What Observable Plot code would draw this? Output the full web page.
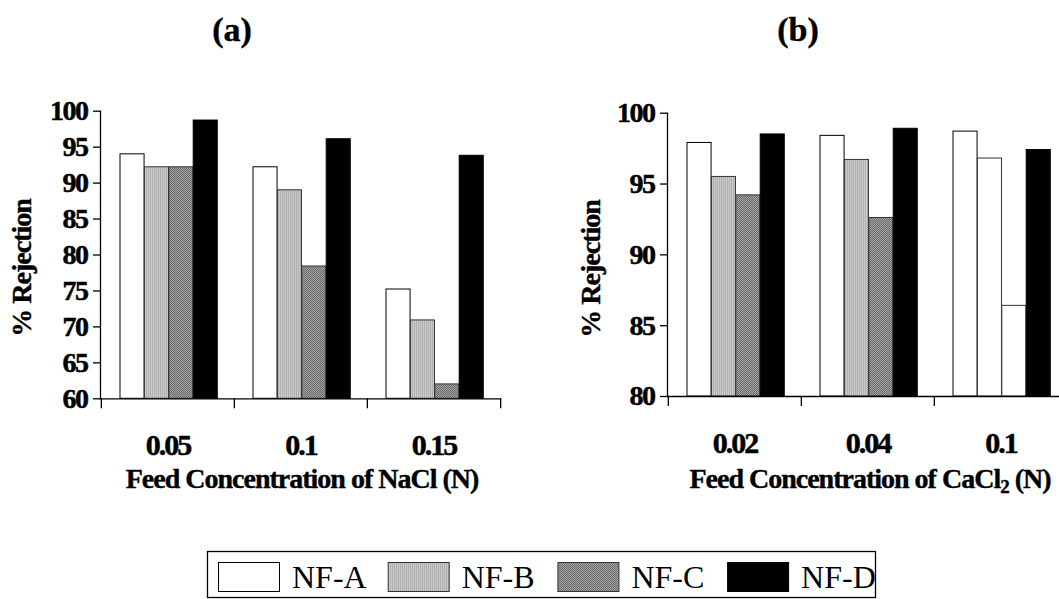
<!DOCTYPE html>
<html><head><meta charset="utf-8">
<script src="https://cdn.jsdelivr.net/npm/d3@7"></script>
<script src="https://cdn.jsdelivr.net/npm/@observablehq/plot@0.6"></script>
<style>
html,body{margin:0;padding:0;background:#fff;width:1059px;height:599px;overflow:hidden;position:relative;font-family:"Liberation Serif","Times New Roman",serif;}
.panel{position:absolute;top:0;width:540px;}
.panel svg{overflow:visible;max-width:none !important;}
.panel svg text{font-family:"Liberation Serif","Times New Roman",serif !important;font-weight:bold !important;fill:#000;stroke:#000;stroke-width:0.5px;}
.panel g[aria-label="y-axis tick label"] text{font-size:28px !important;letter-spacing:-1.5px;}
.panel g[aria-label="x-axis tick label"] text{font-size:30px !important;letter-spacing:-2px;}
#overlay{position:absolute;left:0;top:0;}
#overlay text.b{stroke:#000;stroke-width:0.4px;}
</style></head><body>
<svg width="0" height="0" style="position:absolute"><defs>
<pattern id="patB" width="2" height="2" patternUnits="userSpaceOnUse"><rect width="2" height="2" fill="#c9c9c9"/><rect width="1" height="2" fill="#b1b1b1"/></pattern>
<pattern id="patC" width="2" height="2" patternUnits="userSpaceOnUse"><rect width="2" height="2" fill="#a2a2a2"/><rect width="1" height="1" fill="#6c6c6c"/><rect x="1" y="1" width="1" height="1" fill="#6c6c6c"/></pattern>
</defs></svg>
<div id="pa" class="panel" style="left:0px"></div>
<div id="pb" class="panel" style="left:567px"></div>
<svg id="overlay" width="1059" height="599"></svg>
<script>
// ---- data ----
const series = ["NF-A", "NF-B", "NF-C", "NF-D"];
const naclConc = ["0.05", "0.1", "0.15"];
const naclA = [94.0, 92.2, 75.2];
const naclB = [92.2, 89.0, 70.9];
const naclC = [92.2, 78.4, 62.0];
const naclD = [98.7, 96.1, 93.8];
const naclTicks = [60, 65, 70, 75, 80, 85, 90, 95, 100];
const caclConc = ["0.02", "0.04", "0.1"];
const caclA = [97.9, 98.4, 98.7];
const caclB = [95.5, 96.7, 96.8];
const caclC = [94.2, 92.6, 86.4];
const caclD = [98.5, 98.9, 97.4];
const caclTicks = [80, 85, 90, 95, 100];

// ---- styles ----
const fills = {"NF-A": "#ffffff", "NF-B": "url(#patB)", "NF-C": "url(#patC)", "NF-D": "#000000"};
const strokes = {"NF-A": "#000", "NF-B": "#333", "NF-C": "#333", "NF-D": "#000"};

function panel({conc, vals, ticks, marginTop, frameBottom, hollowConc = []}) {
  const W = 540, ML = 100, MR = 40, MB = 80;
  const step = (W - ML - MR) / conc.length;
  const pad = 19, bw = 24.4;
  const lo = ticks[0], hi = ticks[ticks.length - 1];
  const rows = [];
  series.forEach((s, i) => conc.forEach((c, j) => rows.push({series: s, conc: c, value: vals[i][j]})));
  const barMarks = series.map((s, i) => Plot.barY(rows.filter(d => d.series === s), {
    x: "conc", y1: () => lo, y2: "value",
    insetLeft: pad + bw * i, insetRight: step - pad - bw * (i + 1),
    fill: d => (hollowConc.includes(d.conc) && (s === "NF-B" || s === "NF-C")) ? "#ffffff" : fills[s],
    stroke: strokes[s], strokeWidth: 1
  }));
  return Plot.plot({
    width: W, height: frameBottom + MB,
    marginLeft: ML, marginRight: MR, marginTop, marginBottom: MB,
    style: {fontFamily: "Liberation Serif, serif", fontWeight: "bold", fontSize: "28px", background: "transparent", color: "#000", maxWidth: "none"},
    x: {domain: conc, padding: 0, axis: null},
    y: {domain: [lo, hi], axis: null},
    color: {type: "identity"},
    marks: [
      ...barMarks,
      Plot.frame({anchor: "left", stroke: "#000", strokeWidth: 1.3}),
      Plot.frame({anchor: "bottom", stroke: "#000", strokeWidth: 1.3}),
      Plot.axisY(ticks, {tickSize: 7, tickPadding: 6, fontSize: 28, label: null, strokeWidth: 1.3}),
      Plot.axisX(conc, {tickSize: 10, tickFormat: () => "", dx: -step / 2, label: null, strokeWidth: 1.3, ariaLabel: "x-boundary"}),
      Plot.axisX([conc[conc.length - 1]], {tickSize: 10, tickFormat: () => "", dx: step / 2, label: null, strokeWidth: 1.3, ariaLabel: "x-boundary"}),
      Plot.axisX(conc, {tickSize: 0, tickPadding: 35, fontSize: 30, label: null})
    ]
  });
}

document.getElementById("pa").append(panel({
  conc: naclConc, vals: [naclA, naclB, naclC, naclD], ticks: naclTicks,
  marginTop: 110.7, frameBottom: 398.3
}));
document.getElementById("pb").append(panel({
  conc: caclConc, vals: [caclA, caclB, caclC, caclD], ticks: caclTicks,
  marginTop: 112.7, frameBottom: 396, hollowConc: ["0.1"]
}));

// ---- titles, axis titles, legend ----
const ov = d3.select("#overlay");
const FAM = "'Liberation Serif','Times New Roman',serif";
function txt(x, y, s, size, extra = {}) {
  const t = ov.append("text").attr("class", "b").attr("x", x).attr("y", y).attr("text-anchor", "middle")
    .attr("font-size", size).attr("fill", "#000").attr("font-family", FAM).attr("font-weight", "bold");
  Object.entries(extra).forEach(([k, v]) => t.attr(k, v));
  t.text(s);
  return t;
}
txt(232, 41, "(a)", 34);
txt(798, 41, "(b)", 34);
txt(0, 0, "% Rejection", 28, {"letter-spacing": "-1px", transform: "translate(31,268) rotate(-90)"});
txt(0, 0, "% Rejection", 28, {"letter-spacing": "-1px", transform: "translate(600,269) rotate(-90)"});
txt(302, 488, "Feed Concentration of NaCl (N)", 28, {"letter-spacing": "-1px"});
const t2 = txt(870, 488, "Feed Concentration of CaCl", 28, {"letter-spacing": "-1px"});
t2.append("tspan").attr("font-size", 19).attr("dy", 5).text("2");
t2.append("tspan").attr("dy", -5).text(" (N)");

// legend
ov.append("rect").attr("x", 207.5).attr("y", 551.5).attr("width", 668).attr("height", 46)
  .attr("fill", "#fff").attr("stroke", "#000").attr("stroke-width", 1.3);
series.forEach((s, i) => {
  const x0 = 218 + 169.7 * i;
  ov.append("rect").attr("x", x0 + 0.5).attr("y", 562.5).attr("width", 61).attr("height", 29)
    .attr("fill", fills[s]).attr("stroke", strokes[s]).attr("stroke-width", 1);
  ov.append("text").attr("x", x0 + 74).attr("y", 588).attr("font-size", 32)
    .attr("font-family", FAM).attr("fill", "#000").text(s);
});
</script>
</body></html>
